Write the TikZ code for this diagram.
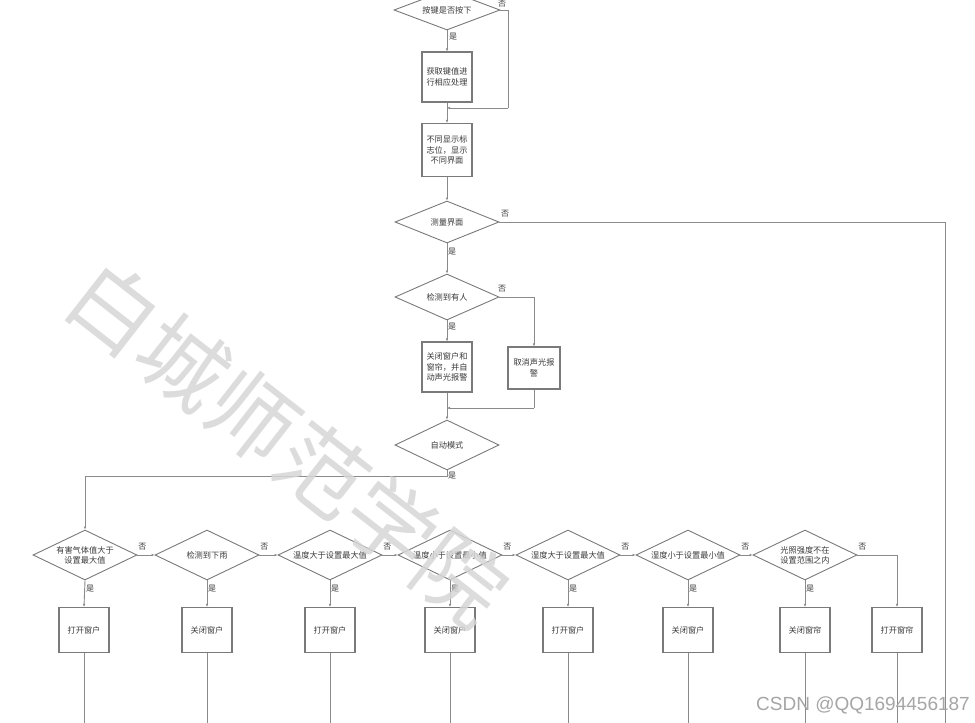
\documentclass[tikz,border=0pt]{standalone}
\usepackage{fontspec}
\newfontfamily\cjk{Noto Sans CJK SC}
\newfontfamily\lsans{Liberation Sans}
\usetikzlibrary{shapes.geometric,arrows.meta}
\definecolor{lc}{HTML}{8A8A8A}
\definecolor{bc}{HTML}{7A7A7A}
\definecolor{tc}{HTML}{3A3A3A}
\begin{document}
\begin{tikzpicture}[x=1pt,y=-1pt,
  lbl/.style={font=\cjk\fontsize{8.2}{10}\selectfont, text=tc, align=center, inner sep=0pt},
  dec/.style={shape=diamond, draw=bc, line width=0.9pt, inner sep=0pt, minimum width=104pt, minimum height=48pt},
  box/.style={draw=bc, line width=1.1pt, minimum width=50pt, minimum height=45pt, inner sep=0pt, font=\cjk\fontsize{8.2}{10.5}\selectfont, text=tc, align=center},
  con/.style={draw=lc, line width=0.9pt},
  arr/.style={con, -{Latex[length=3pt,width=2.6pt]}},
  yn/.style={font=\cjk\fontsize{8}{8}\selectfont, text=tc, inner sep=0pt}
]
\useasboundingbox (0,0) rectangle (975,723);
\fill[white] (0,0) rectangle (975,723);

% top part
\node[dec, minimum width=106pt, minimum height=40pt, label={[lbl]center:按键是否按下}] (t0) at (447,10) {};
\node[box, minimum height=50pt] (b1) at (447,77) {获取键值进\\行相应处理};
\node[box, minimum height=53pt] (b2) at (447,150) {不同显示标\\志位，显示\\不同界面};
\node[dec, minimum height=42pt, label={[lbl]center:测量界面}] (d1) at (447,222) {};
\node[dec, minimum height=46pt, label={[lbl]center:检测到有人}] (d2) at (447,297) {};
\node[box, minimum height=50pt] (b3) at (447,367) {关闭窗户和\\窗帘，并自\\动声光报警};
\node[box, minimum width=52pt, minimum height=42pt] (b4) at (534,368) {取消声光报\\警};
\node[dec, minimum height=50pt, label={[lbl]center:自动模式}] (d3) at (447,445) {};

\coordinate (j1) at (447,108);
\coordinate (j2) at (447,408);

\draw[arr] (t0.south) -- (b1.north);
\node[yn] at (453,37) {是};
\draw[con] (t0.east) -- (508,10) -- (508,108);
\draw[arr] (508,108) -- (j1);
\node[yn] at (502,4) {否};
\draw[arr] (b1.south) -- (b2.north);
\draw[arr] (b2.south) -- (d1.north);
\draw[con] (d1.east) -- (945,222) -- (945,723);
\node[yn] at (505,214) {否};
\draw[arr] (d1.south) -- (d2.north);
\node[yn] at (452,252) {是};
\draw[arr] (d2.east) -- (534,297) -- (b4.north);
\node[yn] at (502,289) {否};
\draw[arr] (d2.south) -- (b3.north);
\node[yn] at (452,327) {是};
\draw[arr] (b3.south) -- (d3.north);
\draw[con] (b4.south) -- (534,408);
\draw[arr] (534,408) -- (j2);

% bottom row
\foreach \i/\x/\t in {1/85/{有害气体值大于\\设置最大值},2/207/检测到下雨,3/330/温度大于设置最大值,4/450/温度小于设置最小值,5/568/湿度大于设置最大值,6/688/湿度小于设置最小值,7/805/{光照强度不在\\设置范围之内}}{
  \node[dec, minimum height=50pt, label={[lbl]center:\t}] (r\i) at (\x,555) {};
}
\foreach \i/\x/\t in {1/84/打开窗户,2/207/关闭窗户,3/330/打开窗户,4/450/关闭窗户,5/568/打开窗户,6/688/关闭窗户,7/805/关闭窗帘,8/897/打开窗帘}{
  \node[box] (c\i) at (\x,630) {\t};
  \draw[con] (c\i.south) -- (\x,723);
}
\draw[con] (d3.south) -- (447,476) -- (85,476);
\draw[arr] (85,476) -- (r1.north);
\node[yn] at (452,476) {是};
\foreach \i/\j in {1/2,2/3,3/4,4/5,5/6,6/7}{
  \draw[arr] (r\i.east) -- (r\j.west);
  \node[yn] at ([shift={(5,-8)}]r\i.east) {否};
}
\foreach \i in {1,...,7}{
  \draw[arr] (r\i.south) -- (c\i.north);
  \node[yn] at ([shift={(5,8)}]r\i.south) {是};
}
\draw[arr] (r7.east) -- (897,555) -- (c8.north);
\node[yn] at ([shift={(5,-8)}]r7.east) {否};

% watermarks
\node[rotate=-38, font=\cjk\fontsize{88}{88}\selectfont, text=black!16, opacity=0.85, inner sep=0pt] (wm) at (288,443) {白城师范学院};
\node[font=\lsans\fontsize{19}{19}\selectfont, text=black!35, inner sep=0pt, anchor=east] (csdn) at (970,705) {CSDN @QQ1694456187};
\end{tikzpicture}
\end{document}
